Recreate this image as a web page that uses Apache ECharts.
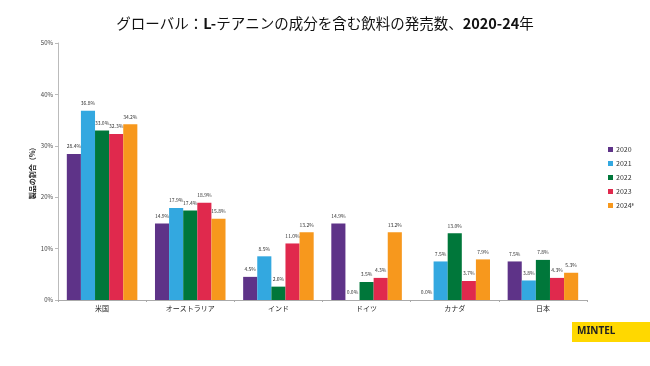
<!DOCTYPE html>
<html><head><meta charset="utf-8">
<script src="https://cdn.jsdelivr.net/npm/echarts@6/dist/echarts.min.js"></script>
<style>html,body{margin:0;padding:0;background:#fff}#c{width:650px;height:366px}</style>
</head><body><div id="c"></div>
<script>
const categories = ['米国', 'オーストラリア', 'インド', 'ドイツ', 'カナダ', '日本'];
const years = ['2020', '2021', '2022', '2023', '2024ᴱ'];
const v2020 = [28.4, 14.9, 4.5, 14.9, 0.0, 7.5];
const v2021 = [36.8, 17.9, 8.5, 0.0, 7.5, 3.8];
const v2022 = [33.0, 17.4, 2.6, 3.5, 13.0, 7.8];
const v2023 = [32.3, 18.9, 11.0, 4.3, 3.7, 4.3];
const v2024 = [34.2, 15.8, 13.2, 13.2, 7.9, 5.3];
const yTicks = [0, 10, 20, 30, 40, 50];

const colors = ['#5e3388', '#33a8e0', '#00773a', '#e0294d', '#f7981d'];
const seriesData = [v2020, v2021, v2022, v2023, v2024];
const font = '"Noto Sans CJK JP", "Noto Sans", sans-serif';

const chart = echarts.init(document.getElementById('c'), null, {renderer: 'canvas'});
chart.setOption({
  animation: false,
  color: colors,
  title: {
    text: '{n|グローバル：}{b|L-}{n|テアニンの成分を含む飲料の発売数、}{b|2020-24}{n|年}',
    left: 'center', top: 11,
    textStyle: {
      fontFamily: font, fontSize: 14.5, color: '#111',
      rich: {
        n: {fontFamily: font, fontSize: 14.5, fontWeight: 'normal', color: '#111'},
        b: {fontFamily: font, fontSize: 14.5, fontWeight: 'bold', color: '#111'}
      }
    }
  },
  legend: {
    orient: 'vertical', left: 603, top: 141, itemGap: 7,
    itemWidth: 5, itemHeight: 5, icon: 'rect',
    textStyle: {fontFamily: font, fontSize: 7, color: '#333', padding: [0,0,0,-2]},
    data: years
  },
  grid: {left: 58, right: 63, top: 43, bottom: 66, containLabel: false},
  xAxis: {
    type: 'category', data: categories,
    axisLine: {lineStyle: {color: '#aaa'}},
    axisTick: {show: true, alignWithLabel: false, length: 2, lineStyle: {color: '#aaa'}},
    axisLabel: {fontFamily: font, fontSize: 7, color: '#222', margin: 5}
  },
  yAxis: {
    type: 'value', min: yTicks[0], max: yTicks[yTicks.length-1], interval: 10,
    name: '製品の割合（%）', nameLocation: 'middle', nameGap: 22, nameRotate: 90,
    nameMoveOverlap: false,
    nameTextStyle: {fontFamily: font, fontSize: 7, fontWeight: 'bold', color: '#222'},
    axisLine: {show: true, lineStyle: {color: '#bbb'}},
    axisTick: {show: true, length: 3, lineStyle: {color: '#bbb'}},
    splitLine: {show: false},
    axisLabel: {fontFamily: font, fontSize: 6, color: '#444', margin: 5, formatter: '{value}%'}
  },
  series: seriesData.map((d, i) => ({
    name: years[i], type: 'bar', data: d,
    barGap: '0%', barCategoryGap: '20%',
    itemStyle: {color: colors[i]},
    label: {show: true, position: 'top', distance: 5, fontFamily: font, fontSize: 5, color: '#333',
      formatter: p => p.value.toFixed(1) + '%'}
  })),
  graphic: [
    {type: 'rect', shape: {x: 572, y: 322, width: 78, height: 20}, style: {fill: '#ffd800'}},
    {type: 'text', left: 577, top: 326, style: {text: 'MINTEL', font: 'bold 10px "Noto Sans", sans-serif', fill: '#222'}}
  ]
});
</script></body></html>
